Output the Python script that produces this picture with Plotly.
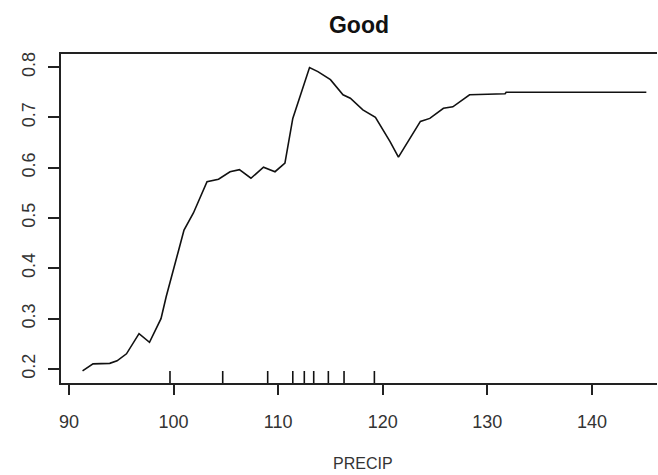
import plotly.graph_objects as go

# Partial dependence curve
precip = [91.3, 92.3, 93.9, 94.6, 95.5, 96.7, 97.7, 98.8, 99.3, 99.7, 100.5, 101.0,
          101.9, 103.2, 104.3, 105.4, 106.3, 107.4, 108.6, 109.7, 110.65, 111.4,
          113.0, 113.8, 115.0, 116.2, 116.9, 118.1, 119.3, 120.7, 121.5, 123.6,
          124.5, 125.8, 126.7, 128.3, 131.7, 131.8, 145.2]
prob = [0.196, 0.210, 0.211, 0.216, 0.230, 0.270, 0.253, 0.300, 0.344, 0.377, 0.437, 0.476,
        0.510, 0.572, 0.577, 0.592, 0.596, 0.579, 0.601, 0.592, 0.609, 0.698,
        0.799, 0.791, 0.775, 0.745, 0.738, 0.715, 0.700, 0.652, 0.621, 0.692,
        0.698, 0.718, 0.721, 0.745, 0.747, 0.750, 0.750]

# Rug (deciles of PRECIP)
rug = [99.66, 104.7, 109.0, 111.4, 112.5, 113.4, 114.8, 116.3, 119.2]

x_ticks = [90, 100, 110, 120, 130, 140]
y_ticks = [0.2, 0.3, 0.4, 0.5, 0.6, 0.7, 0.8]

title_text = "Good"
x_label = "PRECIP"

W, H = 658, 475
ml, mr, mt, mb = 61, 1, 54, 92
plot_h = H - mt - mb

fig = go.Figure()
fig.add_trace(go.Scatter(x=precip, y=prob, mode="lines",
                         line=dict(color="#111111", width=1.6),
                         hoverinfo="skip", showlegend=False))

shapes = []
for r in rug:
    shapes.append(dict(type="line", xref="x", yref="paper", x0=r, x1=r,
                       y0=0, y1=12 / plot_h, line=dict(color="#111111", width=1.6)))

font_family = "Liberation Sans, Arial, sans-serif"
fig.update_layout(
    width=W, height=H,
    margin=dict(l=ml, r=mr, t=mt, b=mb, pad=0),
    paper_bgcolor="white", plot_bgcolor="white",
    showlegend=False,
    shapes=shapes,
    title=dict(text="<b>" + title_text + "</b>", x=359 / W, xref="container", xanchor="center",
               y=1 - 25 / H, yref="container", yanchor="middle",
               font=dict(family=font_family, size=23, color="#111111")),
    xaxis=dict(range=[89.24, 146.22], tickvals=x_ticks, ticktext=[str(v) for v in x_ticks],
               showgrid=False, zeroline=False, showline=True, mirror=True,
               linecolor="#222222", linewidth=1.6,
               ticks="outside", ticklen=10, tickwidth=1.6, tickcolor="#222222",
               tickfont=dict(family=font_family, size=18, color="#333333"),
               ticklabelstandoff=12),
    yaxis=dict(range=[0.172, 0.826], tickvals=y_ticks, ticktext=[f"{v:.1f}" for v in y_ticks],
               showgrid=False, zeroline=False, showline=True, mirror=False,
               linecolor="#222222", linewidth=1.6,
               ticks="outside", ticklen=11, tickwidth=1.6, tickcolor="#222222",
               tickangle=-90,
               tickfont=dict(family=font_family, size=18, color="#333333"),
               ticklabelstandoff=6),
    annotations=[dict(text=x_label, xref="paper", yref="paper", x=(363 - ml) / (W - ml - mr),
                      y=-(463 - (H - mb)) / plot_h, xanchor="center", yanchor="middle",
                      showarrow=False,
                      font=dict(family=font_family, size=16, color="#333333"))],
)

fig.write_html("out.html")
